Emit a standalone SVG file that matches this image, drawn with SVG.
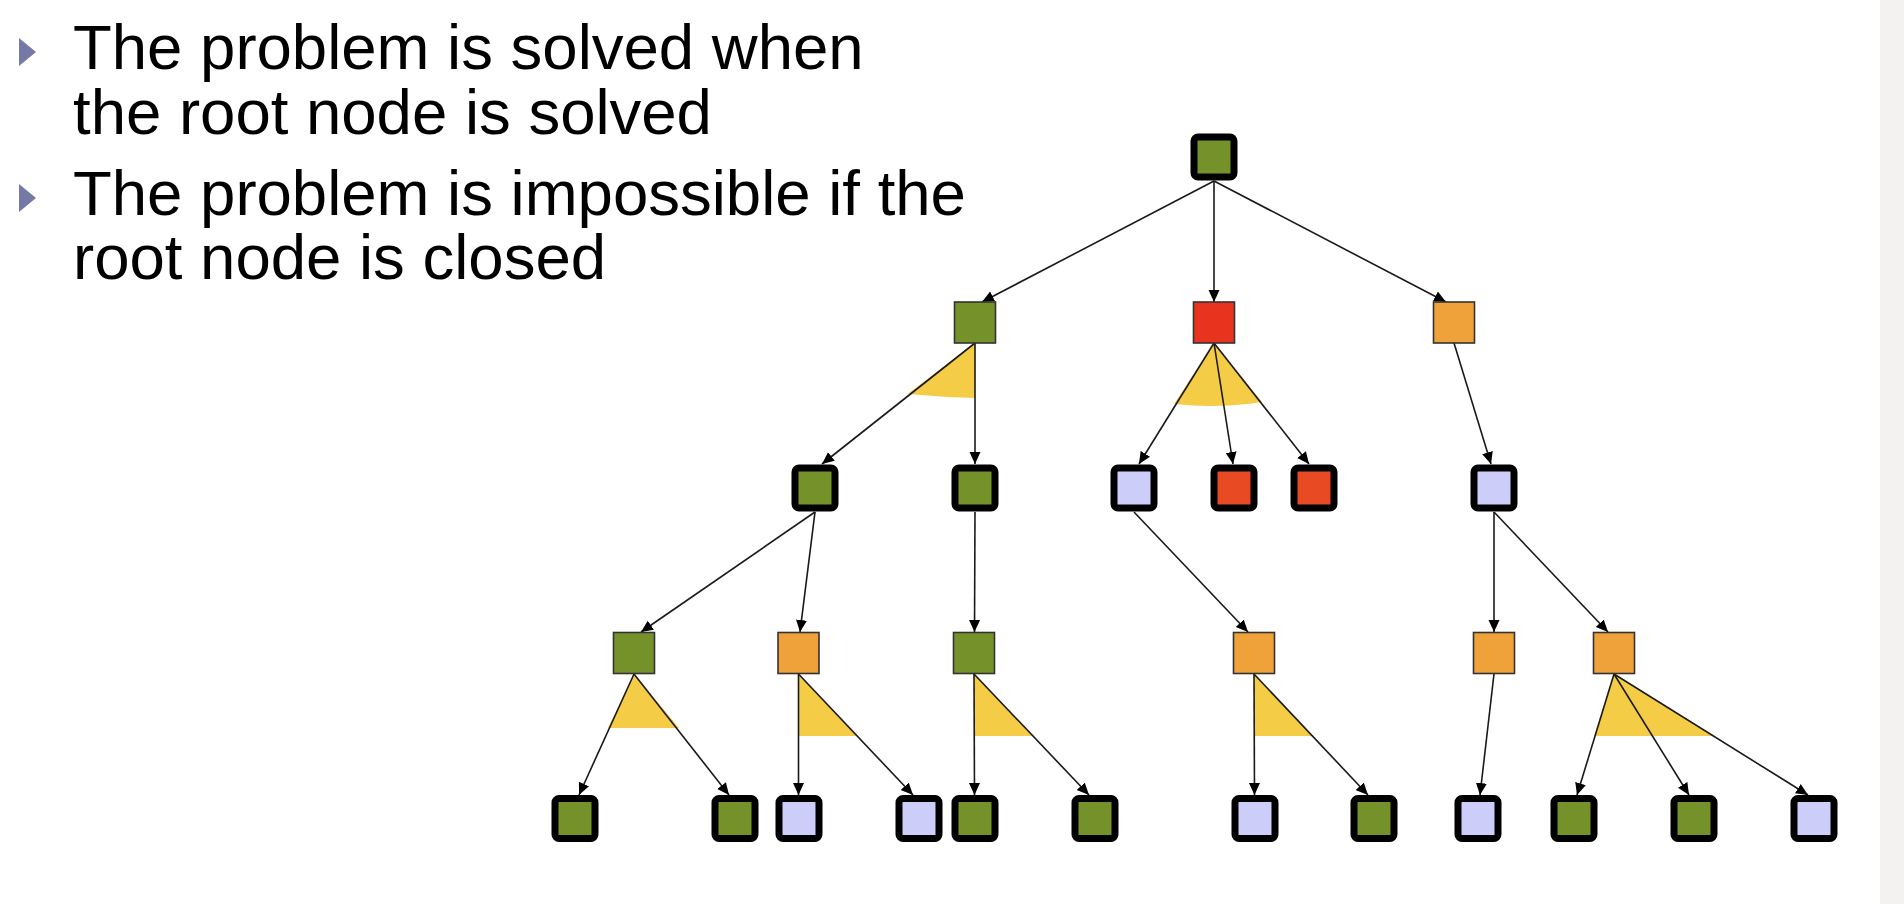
<svg xmlns="http://www.w3.org/2000/svg" width="1904" height="904" viewBox="0 0 1904 904">
<defs>
<style>
.txt{font-family:"Liberation Sans",Arial,Helvetica,sans-serif;font-size:63.5px;fill:#000}
.bul{fill:#7479a6}
.e{stroke:#1a1a1a;stroke-width:1.6;fill:none;marker-end:url(#ah)}
.w{fill:#f5cc46;stroke:none}
.thin{stroke:#333;stroke-width:1.6}
.thick{stroke:#000;stroke-width:7}
.g{fill:#75922a}
.r1{fill:#e8341f}
.r2{fill:#e84a24}
.o{fill:#f0a23a}
.l{fill:#cccdf8}
</style>
<marker id="ah" viewBox="0 0 12 12" refX="12" refY="6" markerWidth="12" markerHeight="12" orient="auto" markerUnits="userSpaceOnUse">
<path d="M0,0.5 L12,6 L0,11.5 z" fill="#000"/>
</marker>
</defs>
<rect x="0" y="0" width="1904" height="904" fill="#ffffff"/>
<rect x="1880" y="0" width="24" height="904" fill="#f3f2f0"/>
<g id="text">
<polygon class="bul" points="19,38 36,52 19,66"/>
<text class="txt" x="73" y="69">The problem is solved when</text>
<text class="txt" x="73" y="134">the root node is solved</text>
<polygon class="bul" points="19,184 36,198 19,212"/>
<text class="txt" x="73" y="215">The problem is impossible if the</text>
<text class="txt" x="73" y="279">root node is closed</text>
</g>
<g id="wedges">
<path class="w" d="M975,343 L907.6,394 Q940,397 975,398 Z"/>
<path class="w" d="M1214,343 L1174,404 Q1218,409 1262,402 Z"/>
<path class="w" d="M634,674 L608,728 L679,728 Z"/>
<path class="w" d="M798.5,674 L798.5,736 L858,736 Z"/>
<path class="w" d="M974,674 L974,736 L1034,736 Z"/>
<path class="w" d="M1254,674 L1254,736 L1313,736 Z"/>
<path class="w" d="M1614,674 L1594,736 L1715,736 Z"/>
</g>
<g id="connectors">
<line class="e" x1="1214" y1="181" x2="982" y2="302"/>
<line class="e" x1="1214" y1="181" x2="1214" y2="302"/>
<line class="e" x1="1214" y1="181" x2="1446" y2="302"/>
<line class="e" x1="975" y1="343" x2="822" y2="464"/>
<line class="e" x1="975" y1="343" x2="975" y2="464"/>
<line class="e" x1="1214" y1="343" x2="1139" y2="464"/>
<line class="e" x1="1214" y1="343" x2="1233" y2="464"/>
<line class="e" x1="1214" y1="343" x2="1309" y2="464"/>
<line class="e" x1="1454" y1="343" x2="1491" y2="464"/>
<line class="e" x1="815" y1="512" x2="641" y2="632"/>
<line class="e" x1="815" y1="512" x2="800" y2="632"/>
<line class="e" x1="975" y1="512" x2="974.5" y2="632"/>
<line class="e" x1="1134" y1="512" x2="1248" y2="632"/>
<line class="e" x1="1494" y1="512" x2="1494" y2="632"/>
<line class="e" x1="1494" y1="512" x2="1608" y2="632"/>
<line class="e" x1="634" y1="674" x2="579" y2="795"/>
<line class="e" x1="634" y1="674" x2="729" y2="795"/>
<line class="e" x1="798.5" y1="674" x2="798.5" y2="795"/>
<line class="e" x1="798.5" y1="674" x2="913" y2="795"/>
<line class="e" x1="974" y1="674" x2="974.5" y2="795"/>
<line class="e" x1="974" y1="674" x2="1089" y2="795"/>
<line class="e" x1="1254" y1="674" x2="1254.5" y2="795"/>
<line class="e" x1="1254" y1="674" x2="1368" y2="795"/>
<line class="e" x1="1494" y1="674" x2="1480" y2="795"/>
<line class="e" x1="1614" y1="674" x2="1577" y2="795"/>
<line class="e" x1="1614" y1="674" x2="1689" y2="795"/>
<line class="e" x1="1614" y1="674" x2="1808" y2="795"/>
</g>
<g id="n-root"><rect class="thick g" x="1194" y="137" width="40" height="40" rx="4"/></g>
<g id="n-1a"><rect class="thin g" x="954.5" y="302" width="41" height="41"/></g>
<g id="n-1b"><rect class="thin r1" x="1193.5" y="302" width="41" height="41"/></g>
<g id="n-1c"><rect class="thin o" x="1433.5" y="302" width="41" height="41"/></g>
<g id="n-2a"><rect class="thick g" x="795" y="468" width="40" height="40" rx="4"/></g>
<g id="n-2b"><rect class="thick g" x="955" y="468" width="40" height="40" rx="4"/></g>
<g id="n-2c"><rect class="thick l" x="1114" y="468" width="40" height="40" rx="4"/></g>
<g id="n-2d"><rect class="thick r2" x="1214" y="468" width="40" height="40" rx="4"/></g>
<g id="n-2e"><rect class="thick r2" x="1294" y="468" width="40" height="40" rx="4"/></g>
<g id="n-2f"><rect class="thick l" x="1474" y="468" width="40" height="40" rx="4"/></g>
<g id="n-3a"><rect class="thin g" x="613.5" y="632.5" width="41" height="41"/></g>
<g id="n-3b"><rect class="thin o" x="778" y="632.5" width="41" height="41"/></g>
<g id="n-3c"><rect class="thin g" x="953.5" y="632.5" width="41" height="41"/></g>
<g id="n-3d"><rect class="thin o" x="1233.5" y="632.5" width="41" height="41"/></g>
<g id="n-3e"><rect class="thin o" x="1473.5" y="632.5" width="41" height="41"/></g>
<g id="n-3f"><rect class="thin o" x="1593.5" y="632.5" width="41" height="41"/></g>
<g id="n-4a"><rect class="thick g" x="555" y="798.5" width="40" height="40" rx="4"/></g>
<g id="n-4b"><rect class="thick g" x="715" y="798.5" width="40" height="40" rx="4"/></g>
<g id="n-4c"><rect class="thick l" x="779" y="798.5" width="40" height="40" rx="4"/></g>
<g id="n-4d"><rect class="thick l" x="899" y="798.5" width="40" height="40" rx="4"/></g>
<g id="n-4e"><rect class="thick g" x="955" y="798.5" width="40" height="40" rx="4"/></g>
<g id="n-4f"><rect class="thick g" x="1075" y="798.5" width="40" height="40" rx="4"/></g>
<g id="n-4g"><rect class="thick l" x="1235" y="798.5" width="40" height="40" rx="4"/></g>
<g id="n-4h"><rect class="thick g" x="1354" y="798.5" width="40" height="40" rx="4"/></g>
<g id="n-4i"><rect class="thick l" x="1458" y="798.5" width="40" height="40" rx="4"/></g>
<g id="n-4j"><rect class="thick g" x="1554" y="798.5" width="40" height="40" rx="4"/></g>
<g id="n-4k"><rect class="thick g" x="1674" y="798.5" width="40" height="40" rx="4"/></g>
<g id="n-4l"><rect class="thick l" x="1794" y="798.5" width="40" height="40" rx="4"/></g>
</svg>
